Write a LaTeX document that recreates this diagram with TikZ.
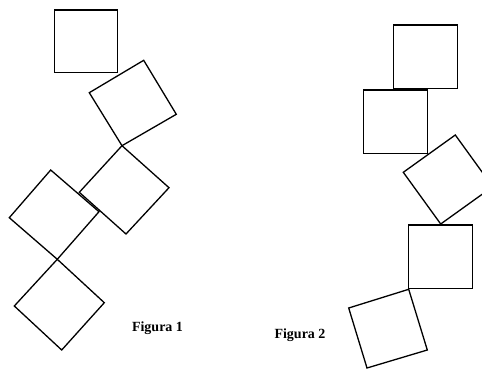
\documentclass[tikz,border=0pt]{standalone}
\usepackage{fontspec}
\setmainfont{Liberation Serif}
\begin{document}
\begin{tikzpicture}[x=1pt,y=-1pt,
  sq/.style={draw=black,line width=1.3pt,line join=miter},
  lbl/.style={font=\fontsize{14}{16}\selectfont\bfseries,inner sep=0pt}]
\useasboundingbox (0,0) rectangle (482,369);
\clip (0,0) rectangle (482,369);
% Figura 1
\draw[sq] (54.3,10) -- (117.7,10) -- (117.7,72.7) -- (54.3,72.7) -- cycle;
\draw[sq] (89.3,92.7) -- (143.7,60.3) -- (176.3,114.3) -- (122,145.7) -- cycle;
\draw[sq] (122,145.7) -- (169,187.7) -- (126,234) -- (79.3,192.3) -- cycle;
\draw[sq] (50.7,170) -- (99,211.7) -- (57.3,259.3) -- (9.3,217.7) -- cycle;
\draw[sq] (57.3,259.3) -- (104.3,302.7) -- (61.7,350) -- (14.3,306) -- cycle;
\node[lbl] (f1) at (157.5,328) {Figura 1};
% Figura 2
\draw[sq] (393.7,25) -- (457.3,25) -- (457.3,88.3) -- (393.7,88.3) -- cycle;
\draw[sq] (363.7,90) -- (427.3,90) -- (427.3,153.3) -- (363.7,153.3) -- cycle;
\draw[sq] (403.3,172.3) -- (455.3,135) -- (492.7,186.7) -- (440.7,224) -- cycle;
\draw[sq] (408.7,225) -- (472.3,225) -- (472.3,288.3) -- (408.7,288.3) -- cycle;
\draw[sq] (408.7,289.3) -- (348.7,308) -- (367,368) -- (427.3,350) -- cycle;
\node[lbl] (f2) at (300,335) {Figura 2};
\end{tikzpicture}
\end{document}
